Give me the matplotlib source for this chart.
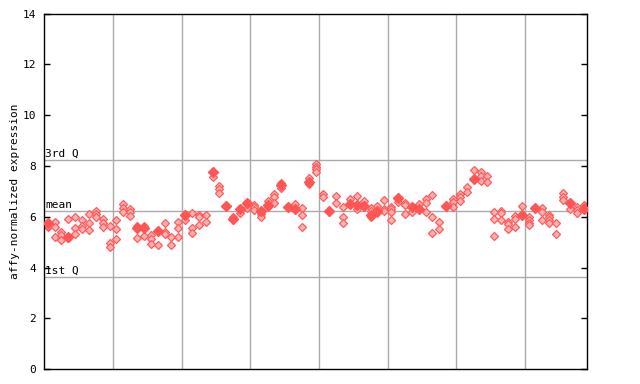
import matplotlib
matplotlib.use("Agg")
import matplotlib.pyplot as plt
import matplotlib.transforms as mtransforms

# values per sample column (checkered diamonds) and the filled diamond, if any
col_values = [
    [5.58, 5.65], [5.79, 5.61, 5.2], [5.38, 5.28, 5.07], [5.9, 5.15], [5.98, 5.54, 5.31],
    [5.87, 5.63, 5.5], [6.1, 5.74, 5.48], [6.24, 6.1, 5.98], [5.92, 5.74, 5.6], [5.62, 4.95, 4.82],
    [5.87, 5.5, 5.13], [6.5, 6.35, 6.2], [6.29, 6.2, 6.04], [5.62, 5.15], [5.62, 5.25],
    [5.28, 5.12, 4.91], [4.88], [5.74, 5.4, 5.32], [5.19, 4.88], [5.8, 5.54, 5.19],
    [5.87], [6.13, 5.57, 5.37], [6.07, 5.98, 5.67], [6.07, 5.79], [7.58],
    [7.21, 7.08, 6.95], [], [6.0], [6.13], [6.33],
    [6.46, 6.37, 6.26], [6.1, 5.98], [6.62, 6.37], [6.9, 6.79, 6.53], [7.34, 7.12],
    [], [6.5], [6.33, 6.06, 5.58], [7.51, 7.29], [8.08, 7.97, 7.87, 7.75],
    [6.9, 6.79], [], [6.82, 6.53], [6.37, 5.98, 5.74], [6.69],
    [6.82, 6.3], [6.62], [6.33, 6.24, 5.98], [6.42, 6.13], [6.66, 6.3, 6.21],
    [6.4, 6.3, 6.2, 5.87], [6.59], [6.55, 6.46, 6.1], [6.2], [6.49],
    [6.7, 6.55, 6.2], [6.86, 6.0, 5.35], [5.78, 5.5], [], [6.69, 6.59, 6.37],
    [6.9, 6.79, 6.63], [7.16, 6.96], [7.84], [7.75, 7.6, 7.41], [7.6, 7.36],
    [6.19, 5.9, 5.24], [6.22, 6.13, 5.87], [5.8, 5.7, 5.52], [6.03, 5.9, 5.61], [6.41],
    [5.98, 5.87, 5.77, 5.66], [], [6.33, 6.2, 5.86], [6.07, 5.98, 5.87, 5.77], [5.74, 5.32],
    [6.92, 6.79, 6.66], [6.29], [6.4, 6.26, 6.13], [6.46, 6.4],
]
solid_cols = [0, 3, 13, 14, 16, 20, 24, 26, 27, 28, 29, 31, 32, 34, 35, 36, 38, 41,
              44, 45, 46, 47, 48, 51, 53, 54, 58, 62, 69, 71, 76, 78]
solid_vals = [5.77, 5.21, 5.54, 5.54, 5.45, 6.07, 7.77, 6.41, 5.9, 6.32, 6.55, 6.22, 6.47,
              7.25, 6.38, 6.3, 7.38, 6.22, 6.51, 6.46, 6.43, 6.07, 6.22, 6.75, 6.4, 6.32,
              6.42, 7.49, 6.07, 6.36, 6.53, 6.3]

q3, mean, q1 = 8.22, 6.22, 3.62
group_edges = [10, 20, 30, 40, 50, 60, 70]

fig = plt.figure(figsize=(6.4, 3.84), dpi=100)
ax = fig.add_axes([0.0692, 0.039, 0.848, 0.9253])

ax.set_xlim(0, len(col_values))
ax.set_ylim(0, 14)

for x in group_edges:
    ax.axvline(x, color="#aaaaaa", lw=1, zorder=1)
for y in (q3, mean, q1):
    ax.axhline(y, color="#aaaaaa", lw=1, zorder=1)

xs, ys = [], []
for i, vals in enumerate(col_values):
    for v in vals:
        xs.append(i + 0.5)
        ys.append(v)
ax.plot(xs, ys, ls="none", marker="D", ms=4.0, mfc="#ffb0b0", mec="#ff5c5c",
        mew=0.9, zorder=2)
ax.plot([c + 0.5 for c in solid_cols], solid_vals, ls="none", marker="D", ms=4.6,
        color="#ff5555", zorder=3)

mono = "DejaVu Sans Mono"
trans = mtransforms.blended_transform_factory(ax.transAxes, ax.transData)
for y, lab in ((q3, "3rd Q"), (mean, "mean"), (q1, "1st Q")):
    ax.text(0.002, y + 0.05, lab, transform=trans, ha="left", va="bottom",
            fontsize=8, family=mono)

ax.set_yticks(range(0, 15, 2))
ax.set_yticklabels([str(v) for v in range(0, 15, 2)], family=mono, fontsize=8)
ax.set_xticks([])
ax.tick_params(axis="y", direction="in", length=4, width=1, right=True, pad=6)
ax.set_ylabel("affy-normalized expression", family=mono, fontsize=8, labelpad=2)
for s in ax.spines.values():
    s.set_linewidth(1)

fig.savefig("out.png", dpi=100)
